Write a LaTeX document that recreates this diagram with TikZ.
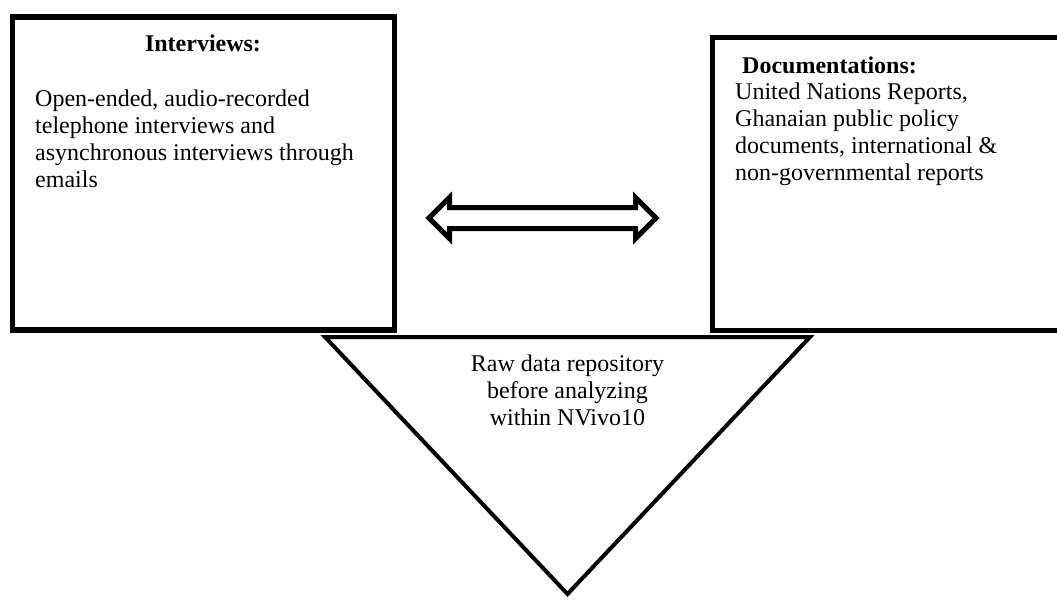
\documentclass[tikz,border=0pt]{standalone}
\usepackage{fontspec}
\setmainfont{Liberation Serif}
\begin{document}
\begin{tikzpicture}[x=1pt,y=-1pt,
  boxframe/.style={draw=black, line width=5.5pt, fill=white, inner sep=0pt},
  txt/.style={inner sep=0pt, font=\fontsize{24}{27}\selectfont},
  hollowarrow/.style={draw=black, line width=5pt, line join=miter, fill=white},
  funnel/.style={draw=black, line width=4pt, line join=miter, fill=white}]
\useasboundingbox (0,0) rectangle (1057,600);
% boxes
\node[boxframe, minimum width=382pt, minimum height=313pt] (interv) at (203.5,173.5) {};
\node[boxframe, minimum width=357pt, minimum height=293pt] (docs) at (891,184) {};
% funnel triangle
\coordinate (tl) at (325,337);
\coordinate (tr) at (810,337);
\coordinate (tb) at (567.5,594);
\draw[funnel] (tl) -- (tr) -- (tb) -- cycle;
% double arrow
\coordinate (la) at (429,218);
\coordinate (ra) at (656,218);
\draw[hollowarrow] (la) -- (449.5,197.5) -- (449.5,207.5) -- (635.5,207.5) -- (635.5,197.5)
  -- (ra) -- (635.5,238.5) -- (635.5,228.5) -- (449.5,228.5) -- (449.5,238.5) -- cycle;
% texts (base anchor of a multi-line node = baseline of its last line)
\node[txt, anchor=base, font=\fontsize{24}{27}\selectfont\bfseries] (intT) at (203,51) {Interviews:};
\node[txt, anchor=base west, align=left] (intB) at (35,187) {Open-ended, audio-recorded\\telephone interviews and\\asynchronous interviews through\\emails};
\node[txt, anchor=base west, font=\fontsize{24}{27}\selectfont\bfseries] (docT) at (742,73) {Documentations:};
\node[txt, anchor=base west, align=left] (docB) at (735,180) {United Nations Reports,\\Ghanaian public policy\\documents, international \&\\non-governmental reports};
\node[txt, anchor=base, align=center] (raw) at (567.5,425) {Raw data repository\\before analyzing\\within NVivo10};
\end{tikzpicture}
\end{document}
